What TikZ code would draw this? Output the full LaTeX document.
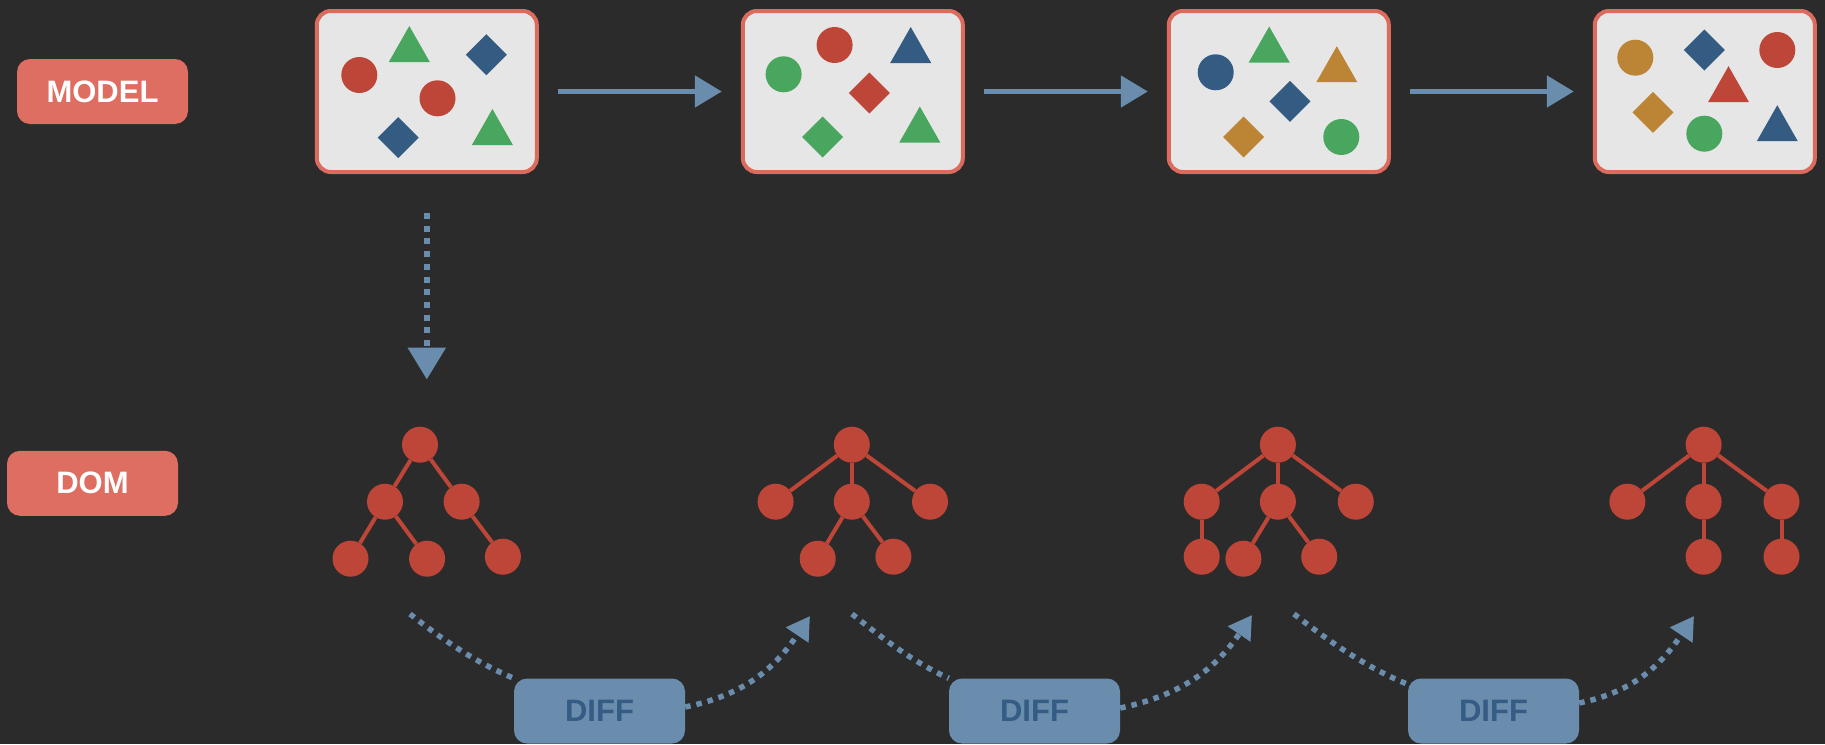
\documentclass[tikz,border=0pt]{standalone}
\usepackage{fontspec}
\newfontfamily\tagfont{Liberation Sans}
\usetikzlibrary{arrows.meta}

\definecolor{bgdark}{HTML}{2B2B2B}
\definecolor{panelgray}{HTML}{E6E6E6}
\definecolor{panelred}{HTML}{DC6B5E}
\definecolor{tagred}{HTML}{DE6D62}
\definecolor{nodered}{HTML}{BE4638}
\definecolor{shgreen}{HTML}{49A65E}
\definecolor{shblue}{HTML}{345B81}
\definecolor{shorange}{HTML}{BC8535}
\definecolor{flowblue}{HTML}{6A8DAD}
\definecolor{difftext}{HTML}{355C85}

% small model shapes, centred at (#2,#3)
\newcommand{\shcirc}[3]{\fill[#1] (#2,#3) circle (18pt);}
\newcommand{\shtri}[3]{\fill[#1] (#2,#3) ++(0,-18) -- ++(20.5,36) -- ++(-41,0) -- cycle;}
\newcommand{\shdia}[3]{\fill[#1] (#2,#3) ++(0,-20.5) -- ++(20.5,20.5) -- ++(-20.5,20.5) -- ++(-20.5,-20.5) -- cycle;}

\tikzset{
  panel/.style={draw=panelred, line width=4pt, fill=panelgray, rounded corners=14pt,
    minimum width=220pt, minimum height=161pt},
  tag/.style={fill=tagred, text=white, rounded corners=13pt, minimum width=171pt,
    minimum height=65pt, inner sep=0pt, font=\tagfont\bfseries\fontsize{31}{36}\selectfont},
  difftag/.style={tag, fill=flowblue, text=difftext},
  dnode/.style={circle, fill=nodered, minimum size=36pt, inner sep=0pt},
  dedge/.style={draw=nodered, line width=4pt},
  flow/.style={draw=flowblue, line width=5pt, -{Triangle[length=27pt,width=31pt]},
    shorten <=19pt, shorten >=19pt},
  dots/.style={draw=flowblue, line width=5.5pt, dash pattern=on 5.5pt off 6pt},
  dotarrow/.style={dots, -{Triangle[length=23pt,width=26pt]}}
}

\begin{document}
\begin{tikzpicture}[x=1pt,y=-1pt]
    \useasboundingbox (0,0) rectangle (1825,744);
    \fill[bgdark] (0,0) rectangle (1825,744);

    \node[tag] (model) at (102.5,91.5) {MODEL};
    \node[tag] (dom) at (92.5,483.3) {DOM};

    % model states
    \node[panel] (m1) at (426.8,91.5) {};
    \node[panel] (m2) at (852.8,91.5) {};
    \node[panel] (m3) at (1278.8,91.5) {};
    \node[panel] (m4) at (1704.8,91.5) {};

    \shcirc{nodered}{359.3}{75}
    \shcirc{nodered}{437.5}{98.3}
    \shtri{shgreen}{409.3}{44}
    \shtri{shgreen}{492.4}{127}
    \shdia{shblue}{486.4}{54.7}
    \shdia{shblue}{398.2}{137.7}

    \shcirc{shgreen}{783.6}{74.3}
    \shcirc{nodered}{834.6}{45}
    \shtri{shblue}{910.7}{45}
    \shtri{shgreen}{919.8}{124.5}
    \shdia{nodered}{869.3}{93}
    \shdia{shgreen}{822.5}{137}

    \shcirc{shblue}{1215.7}{72.3}
    \shcirc{shgreen}{1341.3}{137}
    \shtri{shgreen}{1269.2}{44.5}
    \shtri{shorange}{1336.8}{64.2}
    \shdia{shblue}{1290}{101.3}
    \shdia{shorange}{1243.7}{137}

    \shcirc{shorange}{1635.3}{57.7}
    \shcirc{nodered}{1777.3}{50}
    \shcirc{shgreen}{1704.3}{133.7}
    \shtri{nodered}{1728.5}{84.2}
    \shtri{shblue}{1777.3}{123.2}
    \shdia{shblue}{1704.3}{50}
    \shdia{shorange}{1653}{112.3}

    \draw[flow] (m1) -- (m2);
    \draw[flow] (m2) -- (m3);
    \draw[flow] (m3) -- (m4);

    % dom trees
    \node[dnode] (t1r) at (420,444.7) {};
    \node[dnode] (t1a) at (385,501.7) {};
    \node[dnode] (t1b) at (461.6,501.7) {};
    \node[dnode] (t1c) at (350.5,558.7) {};
    \node[dnode] (t1d) at (427.1,558.7) {};
    \node[dnode] (t1e) at (502.9,556.7) {};
    \draw[dedge] (t1r) -- (t1a);
    \draw[dedge] (t1r) -- (t1b);
    \draw[dedge] (t1a) -- (t1c);
    \draw[dedge] (t1a) -- (t1d);
    \draw[dedge] (t1b) -- (t1e);

    \node[dnode] (t2r) at (851.8,444.7) {};
    \node[dnode] (t2a) at (775.6,501.7) {};
    \node[dnode] (t2b) at (851.8,501.7) {};
    \node[dnode] (t2c) at (930,501.7) {};
    \node[dnode] (t2d) at (817.7,558.7) {};
    \node[dnode] (t2e) at (893.4,556.7) {};
    \draw[dedge] (t2r) -- (t2a);
    \draw[dedge] (t2r) -- (t2b);
    \draw[dedge] (t2r) -- (t2c);
    \draw[dedge] (t2b) -- (t2d);
    \draw[dedge] (t2b) -- (t2e);

    \node[dnode] (t3r) at (1277.9,444.7) {};
    \node[dnode] (t3a) at (1201.7,501.7) {};
    \node[dnode] (t3b) at (1277.9,501.7) {};
    \node[dnode] (t3c) at (1355.8,501.7) {};
    \node[dnode] (t3d) at (1201.7,556.7) {};
    \node[dnode] (t3e) at (1243.4,558.7) {};
    \node[dnode] (t3f) at (1319.2,556.7) {};
    \draw[dedge] (t3r) -- (t3a);
    \draw[dedge] (t3r) -- (t3b);
    \draw[dedge] (t3r) -- (t3c);
    \draw[dedge] (t3a) -- (t3d);
    \draw[dedge] (t3b) -- (t3e);
    \draw[dedge] (t3b) -- (t3f);

    \node[dnode] (t4r) at (1703.6,444.7) {};
    \node[dnode] (t4a) at (1627.4,501.7) {};
    \node[dnode] (t4b) at (1703.6,501.7) {};
    \node[dnode] (t4c) at (1781.5,501.7) {};
    \node[dnode] (t4d) at (1703.6,556.7) {};
    \node[dnode] (t4e) at (1781.5,556.7) {};
    \draw[dedge] (t4r) -- (t4a);
    \draw[dedge] (t4r) -- (t4b);
    \draw[dedge] (t4r) -- (t4c);
    \draw[dedge] (t4b) -- (t4d);
    \draw[dedge] (t4c) -- (t4e);

    \draw[dots, line width=6pt, dash pattern=on 6pt off 6.7pt,
        -{Triangle[length=32pt,width=37pt]}, shorten <=39pt, shorten >=47pt]
        (m1.south) -- (m1.south |- t1r.north);

    % diff steps
    \node[difftag] (d1) at (599.5,711) {DIFF};
    \node[difftag] (d2) at (1034.5,711) {DIFF};
    \node[difftag] (d3) at (1493.5,711) {DIFF};

    \coordinate (a1) at (410,614);
    \coordinate (a2) at (852,614);
    \coordinate (a3) at (1294,614);
    \coordinate (p2) at (810,616);
    \coordinate (p3) at (1252,615);
    \coordinate (p4) at (1694,616);

    \draw[dots] (a1) .. controls (443,640) and (475,662) .. (d1.north west);
    \draw[dots] (a2) .. controls (885,640) and (913,662) .. (d2.north west);
    \draw[dots] (a3) .. controls (1329.5,641.7) and (1367,668) .. ([yshift=-6pt]d3.north west);
    \draw[dotarrow] ([yshift=4pt]d1.east) .. controls (747,694.5) and (776.5,665.7) .. (p2);
    \draw[dotarrow] ([yshift=3pt]d2.east) .. controls (1183,694.7) and (1216,668) .. (p3);
    \draw[dotarrow] ([yshift=8pt]d3.east) .. controls (1636,691.4) and (1662.7,662.4) .. (p4);
\end{tikzpicture}
\end{document}
